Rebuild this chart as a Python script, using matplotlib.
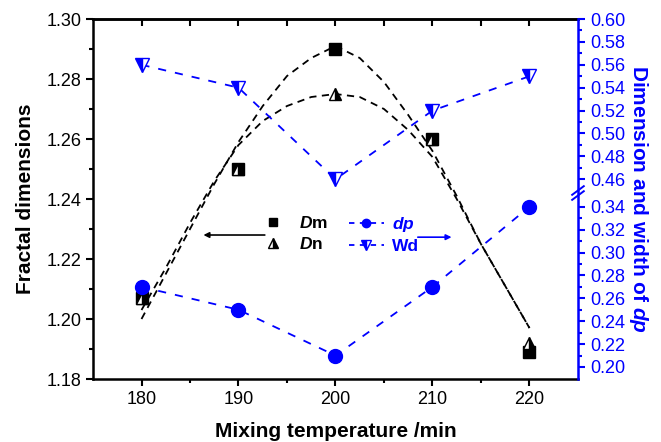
import numpy as np
import matplotlib
matplotlib.use('Agg')
import matplotlib.pyplot as plt
from matplotlib.lines import Line2D
from matplotlib.ticker import FixedLocator, FormatStrFormatter

plt.rcParams['font.family'] = ['Liberation Sans', 'DejaVu Sans']
plt.rcParams['mathtext.fontset'] = 'custom'
plt.rcParams['mathtext.rm'] = 'Liberation Sans'
plt.rcParams['mathtext.it'] = 'Liberation Sans:italic'
plt.rcParams['mathtext.bf'] = 'Liberation Sans:bold'
plt.rcParams['mathtext.bfit'] = 'Liberation Sans:italic:bold'

# measured points
temps = [180, 190, 200, 210, 220]
dm = [1.207, 1.250, 1.290, 1.260, 1.189]
dn = [1.207, 1.250, 1.275, 1.260, 1.192]
dp = [0.27, 0.25, 0.21, 0.27, 0.34]
wd = [0.56, 0.54, 0.46, 0.52, 0.55]

# fitted curves
fit_t = [180, 182.5, 185, 187.5, 190, 192.5, 195, 197.5, 200,
         202.5, 205, 207.5, 210, 212.5, 215, 217.5, 220]
dm_fit = [1.200, 1.215, 1.230, 1.245, 1.259, 1.271, 1.281, 1.287, 1.291,
          1.287, 1.279, 1.268, 1.256, 1.241, 1.225, 1.211, 1.197]
dn_fit = [1.203, 1.217, 1.232, 1.246, 1.258, 1.266, 1.271, 1.274, 1.275,
          1.274, 1.270, 1.263, 1.254, 1.240, 1.225, 1.211, 1.197]

left_ticks = [1.18, 1.20, 1.22, 1.24, 1.26, 1.28, 1.30]
right_ticks = [0.20, 0.22, 0.24, 0.26, 0.28, 0.30, 0.32, 0.34,
               0.46, 0.48, 0.50, 0.52, 0.54, 0.56, 0.58, 0.60]

BLUE = '#0000ff'
lo, hi, gap = 0.34, 0.46, 0.024


# broken right axis: squeeze 0.34..0.46 into a small gap
def fwd(v):
    v = np.asarray(v, dtype=float)
    return np.where(v <= lo, v,
                    np.where(v >= hi, v - (hi - lo) + gap,
                             lo + (v - lo) * gap / (hi - lo)))


def inv(u):
    u = np.asarray(u, dtype=float)
    return np.where(u <= lo, u,
                    np.where(u >= lo + gap, u + (hi - lo) - gap,
                             lo + (u - lo) * (hi - lo) / gap))


fig = plt.figure(figsize=(6.61, 4.42), dpi=100)
ax = fig.add_axes([0.1407, 0.1425, 0.7337, 0.8145])
ax2 = ax.twinx()

ax.plot(fit_t, dm_fit, ls=(0, (4, 3)), color='black', lw=1.3)
ax.plot(fit_t, dn_fit, ls=(0, (4, 3)), color='black', lw=1.3)
ax.plot(temps, dm, ls='none', marker='s', color='black', ms=8)
ax.plot(temps, dn, ls='none', marker='^', mfc='black', mfcalt='white',
        fillstyle='right', mec='black', ms=9, mew=1)

ax2.set_yscale('function', functions=(fwd, inv))
ax2.plot(temps, dp, ls=(0, (4.5, 5)), color=BLUE, lw=1.3, marker='o', ms=10)
ax2.plot(temps, wd, ls=(0, (4.5, 5)), color=BLUE, lw=1.3, marker='v', ms=10,
         mfc=BLUE, mfcalt='white', fillstyle='left', mec=BLUE, mew=1)

ax.set_xlim(175, 225)
ax.set_ylim(1.18, 1.30)
ax2.set_ylim(0.1895, 0.60)

ax.set_xticks(temps)
ax.xaxis.set_minor_locator(FixedLocator([185, 195, 205, 215]))
ax.set_yticks(left_ticks)
ax.yaxis.set_minor_locator(FixedLocator(np.arange(1.19, 1.30, 0.02)))
ax.yaxis.set_major_formatter(FormatStrFormatter('%.2f'))
ax.tick_params(which='both', direction='out', width=1.5, labelsize=13)
ax.tick_params(which='major', length=5)
ax.tick_params(which='minor', length=3)

ax2.yaxis.set_major_locator(FixedLocator(right_ticks))
ax2.yaxis.set_minor_locator(FixedLocator(
    [t + 0.01 for t in right_ticks if t not in (0.34, 0.60)]))
ax2.yaxis.set_major_formatter(FormatStrFormatter('%.2f'))
ax2.tick_params(which='both', direction='out', width=1.5, color=BLUE,
                labelcolor=BLUE, labelsize=13)
ax2.tick_params(which='major', length=5)
ax2.tick_params(which='minor', length=3)

top = ax.secondary_xaxis('top')
top.set_xticks(temps)
top.xaxis.set_minor_locator(FixedLocator([185, 195, 205, 215]))
top.tick_params(which='both', direction='in', length=5, width=1.5,
                labeltop=False)

for s in ['left', 'top', 'bottom']:
    ax.spines[s].set_linewidth(1.8)
    ax2.spines[s].set_visible(False)
ax.spines['right'].set_visible(False)
top.spines['top'].set_linewidth(1.8)
ax2.spines['right'].set_color(BLUE)
ax2.spines['right'].set_linewidth(1.8)

ax.set_xlabel('Mixing temperature /min', fontsize=15, fontweight='bold',
              labelpad=10)
ax.set_ylabel('Fractal dimensions', fontsize=15, fontweight='bold',
              labelpad=8)
ax2.set_ylabel(r'Dimension and width of $\mathbfit{dp}$', fontsize=15,
               fontweight='bold', color=BLUE, rotation=270, labelpad=18)

# break marks on the right spine
yb = ax2.transAxes.inverted().transform(ax2.transData.transform((0, 0.40)))[1]
for off in (-0.007, 0.007):
    ax2.plot([0.988, 1.012], [yb + off - 0.012, yb + off + 0.012],
             transform=ax2.transAxes, color=BLUE, lw=1.4, clip_on=False)

# legends
h_dm = Line2D([], [], ls='none', marker='s', color='black', ms=6)
h_dn = Line2D([], [], ls='none', marker='^', mfc='black', mfcalt='white',
              fillstyle='right', mec='black', ms=7)
leg1 = ax.legend([h_dm, h_dn], [r'$\mathbfit{D}$m', r'$\mathbfit{D}$n'],
                 loc='center left', bbox_to_anchor=(0.335, 0.405),
                 frameon=False, prop={'weight': 'bold', 'size': 12.5},
                 handlelength=1.0, handletextpad=1.0, labelspacing=0.3,
                 borderpad=0)
ax.add_artist(leg1)
h_dp = Line2D([], [], ls=(0, (3, 3)), color=BLUE, lw=1.3, marker='o', ms=6)
h_wd = Line2D([], [], ls=(0, (3, 3)), color=BLUE, lw=1.3, marker='v', ms=7,
              mfc=BLUE, mfcalt='white', fillstyle='left', mec=BLUE)
ax.legend([h_dp, h_wd], [r'$\mathbfit{dp}$', 'Wd'],
          loc='center left', bbox_to_anchor=(0.51, 0.402),
          frameon=False, prop={'weight': 'bold', 'size': 12.5},
          labelcolor=BLUE, handlelength=2.0, handletextpad=0.5,
          labelspacing=0.3, borderpad=0)

# arrows pointing at the axis each group belongs to
ax.annotate('', xy=(0.222, 0.40), xytext=(0.36, 0.40), xycoords='axes fraction',
            arrowprops=dict(arrowstyle='-|>', color='black', lw=1.2,
                            mutation_scale=8))
ax.annotate('', xy=(0.745, 0.394), xytext=(0.664, 0.394),
            xycoords='axes fraction',
            arrowprops=dict(arrowstyle='-|>', color=BLUE, lw=1.2,
                            mutation_scale=8))

fig.savefig('out.png', dpi=100)
